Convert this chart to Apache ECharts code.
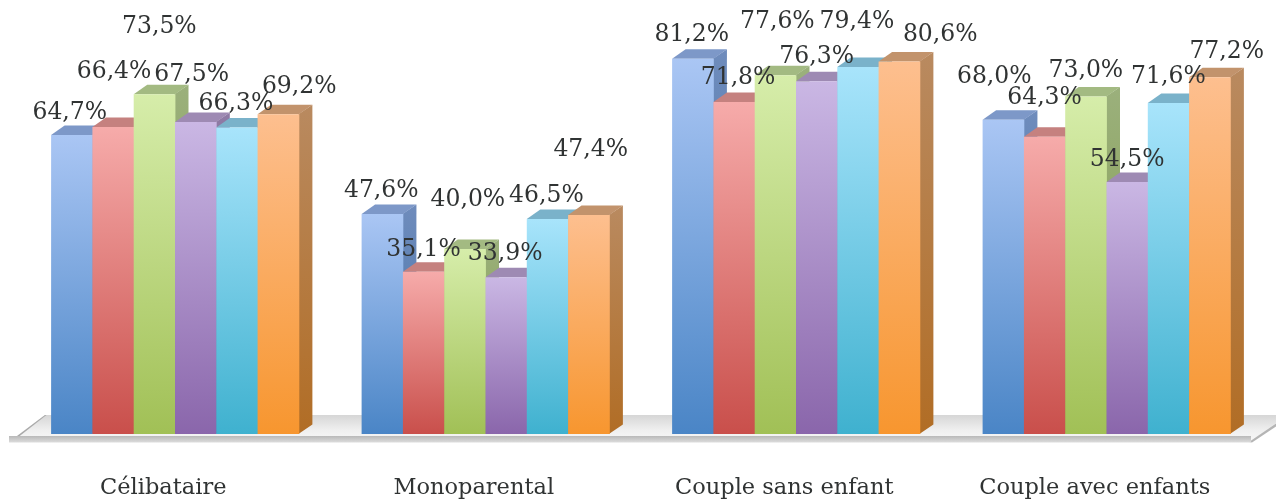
<!DOCTYPE html>
<html><head><meta charset="utf-8">
<style>html,body{margin:0;padding:0;background:#fff;overflow:hidden}#c{width:1276px;height:502px}</style>
<script src="https://cdn.jsdelivr.net/npm/echarts@6/dist/echarts.min.js"></script>
</head><body><div id="c"></div>
<script>
const categories = ['Célibataire','Monoparental','Couple sans enfant','Couple avec enfants'];
const serie1 = [64.7,47.6,81.2,68.0];
const serie2 = [66.4,35.1,71.8,64.3];
const serie3 = [73.5,40.0,77.6,73.0];
const serie4 = [67.5,33.9,76.3,54.5];
const serie5 = [66.3,46.5,79.4,71.6];
const serie6 = [69.2,47.4,80.6,77.2];
const allSeries = [serie1,serie2,serie3,serie4,serie5,serie6];

// Per-label nudges (dx, dy in px from the top of each bar): the source places labels by hand.
const labelNudges = [
  [[-2,-22],[-1,-23],[-1,-24],[-9,-43]],
  [[1,-55],[0,-22],[4,-24],[0,-39]],
  [[5,-67],[3,-49],[2,-53],[0,-26]],
  [[-4,-47],[-1,-23],[0,-24],[0,-22]],
  [[-1,-24],[-1,-23],[-1,-45],[0,-26]],
  [[21,-27],[2,-65],[41,-27],[17,-25]]
];
const palette = [
  {hi:'#aac6f4',lo:'#4a85c6',top:'#7d98c8',sideHi:'#6f8cbc',sideLo:'#3d6ea6'},
  {hi:'#f6abaa',lo:'#c94f4b',top:'#c5817f',sideHi:'#b87472',sideLo:'#a03f3c'},
  {hi:'#d6edaa',lo:'#a1c056',top:'#a3ba82',sideHi:'#9bb07c',sideLo:'#7f9a42'},
  {hi:'#cab7e4',lo:'#8a66ab',top:'#9e8ab3',sideHi:'#8f7ba5',sideLo:'#6d5088'},
  {hi:'#a8e4fb',lo:'#3fb1cf',top:'#7ab2ca',sideHi:'#6ea6bc',sideLo:'#2f8da6'},
  {hi:'#fdbf8f',lo:'#f7962f',top:'#c2936c',sideHi:'#b98a60',sideLo:'#b16d25'}
];
const G = echarts.graphic;
const vgrad = (a,b)=> new G.LinearGradient(0,0,0,1,[{offset:0,color:a},{offset:1,color:b}]);
const DX=13.5, DY=9.5, SHIFT=11.75, BAR_FRAC=0.133;
const textColor='#303333';

function barRender(si){
  return function(params,api){
    const cat=api.value(0), v=api.value(1);
    const topPt=api.coord([cat,v]), basePt=api.coord([cat,0]);
    const w=api.size([1,0])[0]*BAR_FRAC;
    const x0=topPt[0]+SHIFT+(si-3)*w, x1=x0+w, yT=topPt[1], yB=basePt[1];
    const c=palette[si];
    return {type:'group',children:[
      {type:'polygon',shape:{points:[[x1-0.5,yT],[x1+DX,yT-DY],[x1+DX,yB-DY],[x1-0.5,yB]]},style:{fill:vgrad(c.sideHi,c.sideLo)}},
      {type:'polygon',shape:{points:[[x0,yT],[x0+DX,yT-DY],[x1+DX,yT-DY],[x1,yT]]},style:{fill:c.top}},
      {type:'rect',shape:{x:x0,y:yT,width:w+0.4,height:yB-yT},style:{fill:vgrad(c.hi,c.lo)}}
    ]};
  };
}
function labelRender(si){
  return function(params,api){
    const cat=api.value(0), v=api.value(1);
    const p=api.coord([cat,v]);
    const w=api.size([1,0])[0]*BAR_FRAC;
    const n=labelNudges[si][cat];
    return {type:'text',style:{
      x:p[0]+SHIFT+(si-2.5)*w+n[0], y:p[1]+n[1],
      text:v.toFixed(1).replace('.',',')+'%',
      font:'23.5px "DejaVu Serif"',fill:textColor,align:'center',verticalAlign:'middle'}};
  };
}
function floorRender(params,api){
  const o=api.coord([0,0]);
  const b=api.size([1,0])[0];
  const yB=o[1], xL=o[0]-b/2, xR=xL+b*categories.length;
  const fy=yB+2, ty=yB-19;
  return {type:'group',silent:true,children:[
    {type:'polygon',shape:{points:[[xL+1,fy+6],[xL+37,ty],[xR+37,ty],[xR+1,fy+6]]},
     style:{fill:new G.LinearGradient(0,0,0,1,[{offset:0,color:'#d6d6d6'},{offset:0.55,color:'#efefef'},{offset:1,color:'#f8f8f8'}])}},
    {type:'polygon',shape:{points:[[xL+1,fy+6],[xL+37,ty],[xL+38.5,ty],[xL+4,fy+6]]},style:{fill:'#a9a9a9'}},
    {type:'polygon',shape:{points:[[xR-1,fy+6],[xR+37,ty+1],[xR+37,ty+4],[xR+2,fy+6.5]]},style:{fill:'#b5b5b5'}},
    {type:'rect',shape:{x:xL+1,y:fy,width:b*categories.length,height:6.5},style:{fill:vgrad('#b9b9b9','#dcdcdc')}}
  ]};
}
const series=[{type:'custom',coordinateSystem:'cartesian2d',renderItem:floorRender,data:[[0,0]],z:1,silent:true}];
allSeries.forEach((vals,si)=>{
  series.push({type:'custom',coordinateSystem:'cartesian2d',name:'Série '+(si+1),renderItem:barRender(si),
    data:vals.map((v,i)=>[i,v]),encode:{x:0,y:1},z:2+si,silent:true});
});
allSeries.forEach((vals,si)=>{
  series.push({type:'custom',coordinateSystem:'cartesian2d',renderItem:labelRender(si),
    data:vals.map((v,i)=>[i,v]),encode:{x:0,y:1},z:20,silent:true});
});
const chart=echarts.init(document.getElementById('c'),null,{renderer:'canvas'});
chart.setOption({
  animation:false,backgroundColor:'#fff',tooltip:{show:false},legend:{show:false},
  grid:{left:8,width:1242,top:18,height:416,containLabel:false},
  xAxis:{type:'category',data:categories,axisLine:{show:false},axisTick:{show:false},splitLine:{show:false},
    axisLabel:{margin:42,color:textColor,fontFamily:'DejaVu Serif',fontSize:22.5,interval:0,lineHeight:24}},
  yAxis:{type:'value',min:0,max:90,show:false,splitLine:{show:false}},
  series
});
</script></body></html>
